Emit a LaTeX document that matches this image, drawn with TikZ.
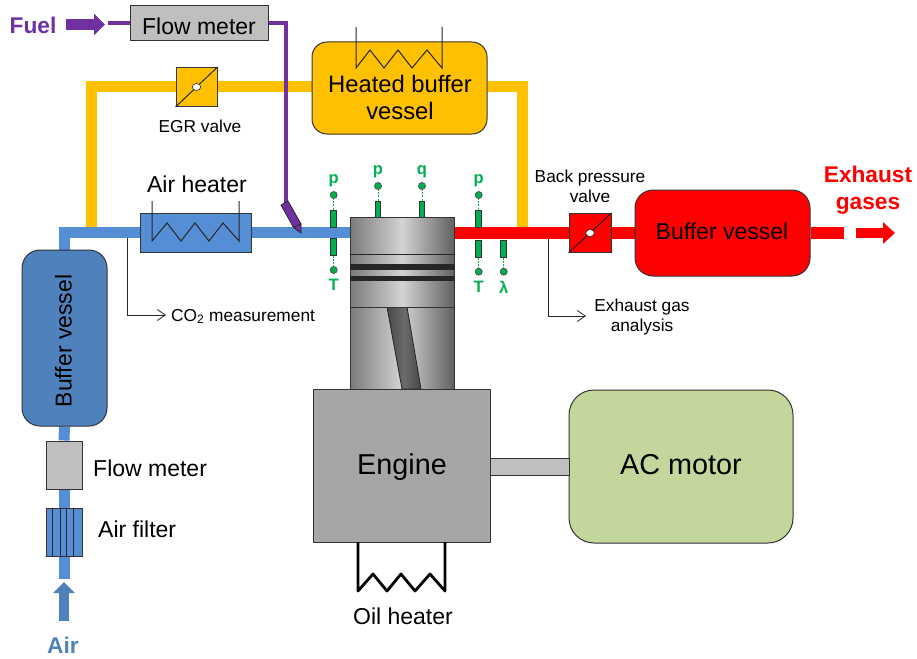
\documentclass[tikz,border=0pt]{standalone}
\usepackage{fontspec}
\setmainfont{Liberation Sans}
\usetikzlibrary{arrows.meta, backgrounds, positioning, shapes.geometric}

\definecolor{airblue}{HTML}{558ED5}
\definecolor{vesselblue}{HTML}{4F81BD}
\definecolor{egryellow}{HTML}{FFC000}
\definecolor{fuelpurple}{HTML}{7030A0}
\definecolor{sensorgreen}{HTML}{00B050}
\definecolor{metergray}{HTML}{BFBFBF}
\definecolor{enginegray}{HTML}{A6A6A6}
\definecolor{motorgreen}{HTML}{C3D69B}

\tikzset{
    box/.style={draw=black!80, line width=1pt, inner sep=0pt},
    smalltext/.style={font=\fontsize{17.3}{20}\selectfont, align=center, inner sep=0pt},
    maintext/.style={font=\fontsize{23}{27}\selectfont, align=center, inner sep=0pt},
    flowtext/.style={font=\bfseries\fontsize{22.7}{27}\selectfont, align=center, inner sep=0pt},
    bigtext/.style={font=\fontsize{28.8}{32}\selectfont},
    sensorbox/.style={box, fill=sensorgreen, minimum width=5.5pt, minimum height=17pt},
    sensordot/.style={circle, draw=black!70, fill=sensorgreen, line width=0.7pt, minimum size=7pt, inner sep=0pt},
    sensorline/.style={sensorgreen, dash pattern=on 2pt off 1.2pt, line width=0.9pt},
    sensortext/.style={font=\bfseries\fontsize{16.5}{18}\selectfont, text=sensorgreen, inner sep=0pt},
    flapdot/.style={draw=black!85, fill=white, ellipse, line width=0.6pt, minimum width=8.5pt, minimum height=7pt, inner sep=0pt},
    wire/.style={black!85, line width=1pt},
    tap/.style={black!85, line width=0.8pt, -{Straight Barb[length=8pt, width=11pt]}},
    airpipe/.style={airblue, line width=11pt},
    egrpipe/.style={egryellow, line width=11pt},
    exhaustpipe/.style={red, line width=12pt},
    fuelpipe/.style={fuelpurple, line width=4pt},
    steel/.style={draw=black!80, line width=0.8pt, left color=black!52, right color=black!62, middle color=black!17},
}

\begin{document}
\begin{tikzpicture}[x=1pt, y=-1pt]
    \useasboundingbox (0,0) rectangle (917,658);

    \node[box, fill=metergray, minimum width=138pt, minimum height=35pt] (fuelmeter) at (199,23.5) {};
    \node[maintext] (fuelmetertext) at (199,26) {Flow meter};
    \node[flowtext, text=fuelpurple] (fuel) at (33,25) {Fuel};
    \coordinate (fuelstart) at (66,24.5);
    \coordinate (fueltip) at (105,24.5);
    \coordinate (fuelend) at (108,23.5);
    \draw[fuelpurple, line width=11pt, -{Triangle[length=11pt, width=21pt]}] (fuelstart) -- (fueltip);

    \node[box, fill=egryellow, minimum width=41pt, minimum height=39pt] (egrvalve) at (196.5,87) {};
    \node[smalltext] (egrtext) at (200,126) {EGR valve};
    \node[box, fill=egryellow, rounded corners=15pt, minimum width=175pt, minimum height=92pt] (heatedvessel) at (399.5,88) {};
    \node[font=\fontsize{23.8}{27}\selectfont, align=center, inner sep=0pt] (heatedtext) at (400,97.5) {Heated buffer\\vessel};

    \node[box, fill=airblue, minimum width=111pt, minimum height=39pt] (airheater) at (195.5,232.5) {};
    \node[maintext] (airheatertext) at (197,184) {Air heater};
    \node[smalltext, anchor=west] (co2text) at (171,316.5) {CO\textsubscript{2} measurement};

    \node[box, fill=vesselblue, rounded corners=18pt, minimum width=85pt, minimum height=176pt] (buffervessel) at (64.5,338) {};
    \node[maintext, rotate=90] (buffertext) at (63.5,341) {Buffer vessel};
    \node[box, fill=metergray, minimum width=36pt, minimum height=48pt] (airmeter) at (64,465) {};
    \node[maintext, anchor=west] (airmetertext) at (93,468) {Flow meter};
    \node[box, fill=airblue, minimum width=36pt, minimum height=48pt] (airfilter) at (64,532) {};
    \node[maintext, anchor=west] (airfiltertext) at (98,529) {Air filter};
    \node[flowtext, text=vesselblue] (air) at (63,645) {Air};
    \coordinate (airend) at (64,579);
    \coordinate (airstart) at (64,621);
    \coordinate (airtip) at (64,582);
    \draw[vesselblue, line width=10.5pt, -{Triangle[length=11pt, width=21pt]}] (airstart) -- (airtip);

    \draw[black!85, line width=0.8pt] (airfilter.north west) ++(7.3,0) -- ++(0,48);
    \draw[black!85, line width=0.8pt] (airfilter.north west) ++(15,0) -- ++(0,48);
    \draw[black!85, line width=0.8pt] (airfilter.north west) ++(21,0) -- ++(0,48);
    \draw[black!85, line width=0.8pt] (airfilter.north west) ++(28.3,0) -- ++(0,48);

    \node[steel, minimum width=104pt, minimum height=82pt, inner sep=0pt] (cylinder) at (402,348) {};
    \draw[draw=black!85, line width=0.8pt, left color=black!72, right color=black!72, middle color=black!58] (387,307) -- (407,307) -- (421,389) -- (402,389) -- cycle;
    \node[steel, minimum width=104pt, minimum height=90pt, inner sep=0pt] (pistonhead) at (402,262) {};
    \draw[black!85, line width=0.8pt] (350,254) -- (454,254);
    \node[fill=black!85, minimum width=104pt, minimum height=5.5pt, inner sep=0pt] (ringtop) at (402,266.8) {};
    \node[fill=black!85, minimum width=104pt, minimum height=5.5pt, inner sep=0pt] (ringlow) at (402,278.6) {};
    \node[box, fill=enginegray, minimum width=177pt, minimum height=153pt] (engine) at (401.5,465.5) {};
    \node[bigtext] (enginetext) at (402,467) {Engine};

    \node[box, fill=motorgreen, rounded corners=25pt, minimum width=224pt, minimum height=153pt] (acmotor) at (681,466.5) {};
    \node[bigtext] (motortext) at (681,465) {AC motor};
    \node[box, fill=metergray, minimum width=79pt, minimum height=17pt] (motorshaft) at (529.5,466.5) {};
    \node[maintext] (oiltext) at (403,616) {Oil heater};

    \node[box, fill=red, minimum width=42pt, minimum height=39pt] (backvalve) at (590,233) {};
    \node[smalltext] (backtext) at (590,186) {Back pressure\\valve};
    \node[box, fill=red, rounded corners=18pt, minimum width=175pt, minimum height=86pt] (exhaustvessel) at (722.5,233) {};
    \node[maintext] (exhaustvesseltext) at (722,231) {Buffer vessel};
    \node[flowtext, text=red] (exhausttext) at (868,190.5) {Exhaust\\gases};
    \node[smalltext] (analysistext) at (642,317) {Exhaust gas\\analysis};
    \coordinate (exhaustend) at (844,233);
    \coordinate (exhauststart) at (856,233);
    \coordinate (exhausttip) at (895,233);
    \draw[red, line width=9.5pt, -{Triangle[length=12pt, width=21pt]}] (exhauststart) -- (exhausttip);

    \coordinate (egrdrop) at (91.5,232);
    \coordinate (egrjoin) at (522.5,233);
    \coordinate (inletport) at (350,232.5);
    \coordinate (outletport) at (454,233);
    \coordinate (injectortop) at (285.5,204);
    \coordinate (co2tap) at (127,238);
    \coordinate (co2end) at (166,315);
    \coordinate (analysistap) at (548,239);
    \coordinate (analysisend) at (586,316);

    \begin{scope}[on background layer]
        \draw[egrpipe] (egrdrop) |- (egrvalve.west);
        \draw[egrpipe] (egrvalve.east) -- (heatedvessel.west |- egrvalve.east);
        \draw[egrpipe] (heatedvessel.east |- egrvalve.east) -| (egrjoin);
        \draw[airpipe] (buffervessel.north) |- (airheater.west);
        \draw[airpipe] (airheater.east) -- (inletport);
        \draw[airpipe] (airend) -- (airfilter.south);
        \draw[airpipe] (airfilter.north) -- (airmeter.south);
        \draw[airpipe] (airmeter.north) -- (buffervessel.south);
        \draw[exhaustpipe] (outletport) -- (backvalve.west);
        \draw[exhaustpipe] (backvalve.east) -- (exhaustvessel.west);
        \draw[exhaustpipe] (exhaustvessel.east) -- (exhaustend);
    \end{scope}

    \draw[fuelpipe] (fuelend) -- (fuelmeter.west);
    \draw[fuelpipe] (fuelmeter.east) -| (injectortop);
    \draw[tap] (co2tap) |- (co2end);
    \draw[tap] (analysistap) |- (analysisend);

    % injector
    \draw[draw=black!85, line width=0.8pt, fill=fuelpurple] (281,205) -- (288,201) -- (301,224) -- (301,233) -- (293.5,227.5) -- cycle;
    \draw[black!85, line width=0.8pt] (293.5,227.5) -- (301,224);

    % valve flaps
    \draw[wire] (egrvalve.south west) -- (egrvalve.north east);
    \node[flapdot] (egrflap) at (egrvalve) {};
    \draw[wire] (backvalve.south west) -- (backvalve.north east);
    \node[flapdot] (backflap) at (backvalve) {};

    % heaters
    \draw[wire] (356,27) -- (356,68) -- (370,50) -- (384,68) -- (398,50) -- (412,68) -- (427,50) -- (442,68) -- (442,27);
    \draw[wire] (152,201) -- (152,241) -- (167,223) -- (181,241) -- (195,223) -- (209,241) -- (223,223) -- (239,241) -- (239,201);
    \draw[black, line width=2.8pt, line join=round] (358,542) -- (358,591) -- (373,574) -- (387,591) -- (401,574) -- (415,591) -- (430,574) -- (445,591) -- (445,542);

    % inlet sensors
    \node[sensorbox] (inletpbox) at (333.7,218.5) {};
    \node[sensordot] (inletpdot) at (333.7,195) {};
    \node[sensortext, above=4pt of inletpdot] (inletp) {p};
    \draw[sensorline] (inletpbox) -- (inletpdot);
    \node[sensorbox] (inletTbox) at (333.7,246.5) {};
    \node[sensordot] (inletTdot) at (333.7,270) {};
    \node[sensortext, below=5pt of inletTdot] (inletT) {T};
    \draw[sensorline] (inletTbox) -- (inletTdot);

    % cylinder sensors
    \node[sensorbox, minimum height=16pt] (cylpbox) at (378,209) {};
    \node[sensordot] (cylpdot) at (378,186) {};
    \node[sensortext, above=4pt of cylpdot] (cylp) {p};
    \draw[sensorline] (cylpbox) -- (cylpdot);
    \node[sensorbox, minimum height=16pt] (cylqbox) at (422,209) {};
    \node[sensordot] (cylqdot) at (422,186) {};
    \node[sensortext, above=4pt of cylqdot] (cylq) {q};
    \draw[sensorline] (cylqbox) -- (cylqdot);

    % outlet sensors
    \node[sensorbox] (outletpbox) at (478.7,218.5) {};
    \node[sensordot] (outletpdot) at (478.7,195) {};
    \node[sensortext, above=4pt of outletpdot] (outletp) {p};
    \draw[sensorline] (outletpbox) -- (outletpdot);
    \node[sensorbox] (outletTbox) at (478.7,248.5) {};
    \node[sensordot] (outletTdot) at (478.7,271.7) {};
    \node[sensortext, below=5pt of outletTdot] (outletT) {T};
    \draw[sensorline] (outletTbox) -- (outletTdot);
    \node[sensorbox] (lambdabox) at (503.7,248.5) {};
    \node[sensordot] (lambdadot) at (503.7,271.7) {};
    \node[sensortext, below=5pt of lambdadot] (lambda) {λ};
    \draw[sensorline] (lambdabox) -- (lambdadot);
\end{tikzpicture}
\end{document}
